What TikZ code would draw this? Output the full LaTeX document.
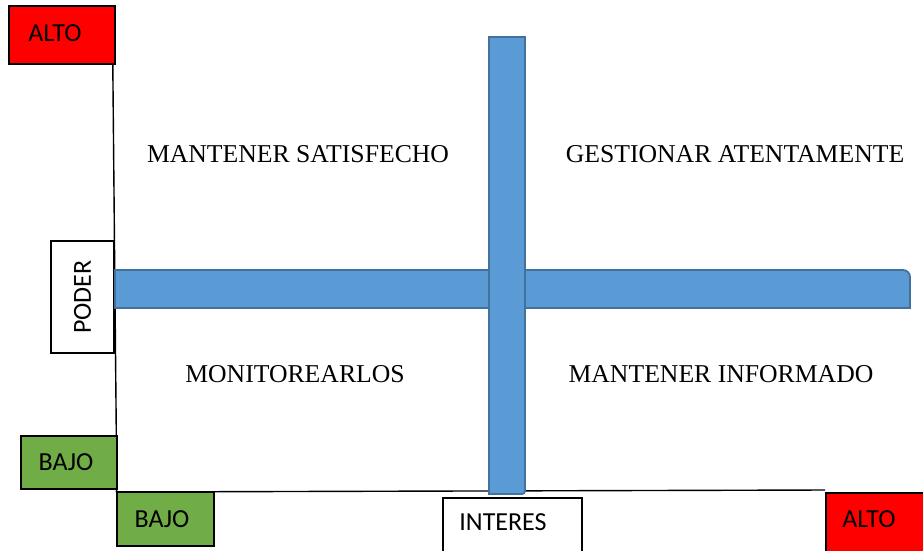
\documentclass[tikz,border=0pt]{standalone}
\usepackage{fontspec}
\usetikzlibrary{backgrounds}
\setmainfont{Liberation Serif}
\newfontfamily\boxfont{Carlito}
\definecolor{barblue}{HTML}{5B9BD5}
\definecolor{barline}{HTML}{41719C}
\definecolor{altored}{HTML}{FF0000}
\definecolor{bajogreen}{HTML}{70AD47}
\begin{document}
\begin{tikzpicture}[x=1pt,y=-1pt,
  lbl/.style={draw=black,line width=1.6pt,inner sep=0pt,font=\boxfont\fontsize{26}{30}\selectfont},
  lbltext/.style={inner sep=0pt,font=\boxfont\fontsize{26}{30}\selectfont},
  quad/.style={inner sep=0pt,font=\fontsize{25.7}{30}\selectfont},
  bar/.style={fill=barblue,draw=barline,line width=1.8pt},
  axis/.style={draw=black,line width=1.4pt}]
\useasboundingbox (0,0) rectangle (923,550);
\clip (0,0) rectangle (923,550);
% label boxes
\node[lbl,fill=altored,minimum width=106pt,minimum height=58pt] (altoL) at (62,35) {};
\node[lbltext] (altoLT) at (55,33) {ALTO};
\node[lbl,fill=white,minimum width=63pt,minimum height=112pt] (poder) at (82.5,297) {\rotatebox{90}{PODER}};
\node[lbl,fill=bajogreen,minimum width=96pt,minimum height=53pt] (bajoL) at (69,462.5) {};
\node[lbltext] (bajoLT) at (66,462) {BAJO};
\node[lbl,fill=bajogreen,minimum width=97pt,minimum height=54pt] (bajoB) at (165.5,519) {};
\node[lbltext] (bajoBT) at (162,519) {BAJO};
\node[lbl,fill=white,minimum width=139pt,minimum height=60pt,anchor=north west] (interes) at (442,497) {};
\node[lbltext] (interesT) at (503,522) {INTERES};
\node[lbl,fill=altored,minimum width=100pt,minimum height=60pt,anchor=north west] (altoR) at (825,492) {};
\node[lbltext] (altoRT) at (869,519) {ALTO};
% axes
\begin{scope}[on background layer]
\coordinate (vtop) at ([xshift=-3pt]altoL.south east);
\coordinate (vbot) at ([xshift=-1.5pt]bajoL.north east);
\draw[axis] (vtop) -- (vbot);
\draw[axis] ([xshift=-1pt]bajoL.south east) -- ([yshift=-1pt]bajoB.north west);
\draw[axis] ([yshift=-0.5pt]bajoB.north east) -- ([yshift=2pt]altoR.north west);
\end{scope}
% bars
\path[bar] (115,308) -- (115,270) [rounded corners=7pt] -- (910,270) [sharp corners] -- (910,308) -- cycle;
\path[bar] (489,37) -- (489,494) [rounded corners=3pt] -- (525,494) [sharp corners] -- (525,37) -- cycle;
% quadrant texts
\node[quad] (q1) at (298,154) {MANTENER SATISFECHO};
\node[quad] (q2) at (735,154) {GESTIONAR ATENTAMENTE};
\node[quad] (q3) at (295,374) {MONITOREARLOS};
\node[quad] (q4) at (721,374) {MANTENER INFORMADO};
\end{tikzpicture}
\end{document}
